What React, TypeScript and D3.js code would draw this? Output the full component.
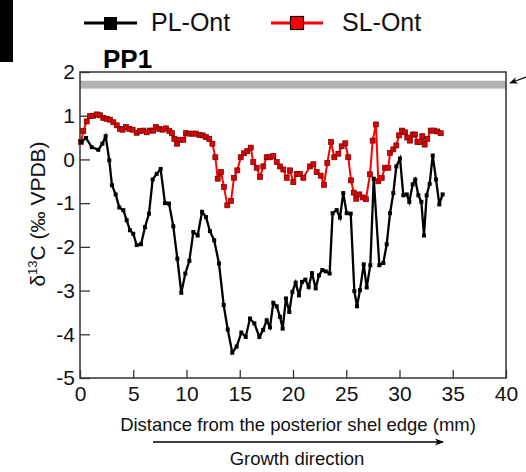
import { useRef, useEffect } from "react";
import * as d3 from "d3";

// PL-Ont (black) profile: distance (mm) and d13C
const plX = [0.1, 0.56, 1.1, 1.72, 2.1, 2.41, 2.75, 3.0, 3.35, 3.69, 4.07, 4.38, 4.69, 5.0, 5.32, 5.73, 6.1, 6.48, 6.82, 7.2, 7.57, 7.98, 8.36, 8.76, 9.14, 9.51, 9.89, 10.27, 10.64, 11.05, 11.46, 11.83, 12.2, 12.6, 13.05, 13.49, 13.87, 14.3, 14.71, 15.15, 15.56, 15.96, 16.37, 16.84, 17.2, 17.53, 17.84, 18.15, 18.47, 18.78, 19.03, 19.34, 19.65, 19.94, 20.25, 20.56, 20.85, 21.16, 21.47, 21.78, 22.13, 22.44, 22.75, 23.07, 23.44, 23.72, 24.1, 24.41, 24.72, 25.04, 25.42, 25.76, 26.01, 26.29, 26.64, 26.92, 27.26, 27.58, 28.11, 28.48, 28.8, 29.11, 29.42, 29.7, 30.05, 30.36, 30.68, 30.92, 31.24, 31.48, 31.77, 32.05, 32.3, 32.55, 32.83, 33.12, 33.43, 33.74, 34.05];
const plY = [0.4, 0.49, 0.28, 0.22, 0.36, 0.53, -0.02, -0.59, -0.8, -1.1, -1.16, -1.39, -1.62, -1.7, -1.96, -1.94, -1.55, -1.24, -0.46, -0.33, -0.22, -1.0, -1.01, -1.53, -2.27, -3.05, -2.61, -2.32, -1.66, -1.74, -1.2, -1.32, -1.64, -1.85, -2.38, -3.33, -3.89, -4.42, -4.28, -3.96, -4.06, -3.64, -3.75, -4.06, -3.9, -3.68, -3.84, -3.28, -3.36, -3.6, -3.87, -3.18, -3.49, -3.03, -2.82, -3.11, -2.8, -2.75, -2.92, -2.6, -2.95, -2.65, -2.53, -2.56, -2.61, -1.23, -1.16, -1.33, -0.77, -1.23, -1.24, -3.01, -3.36, -2.99, -2.4, -2.93, -2.42, -0.44, -2.42, -2.37, -1.94, -1.23, -0.77, -0.16, 0.02, -0.82, -0.8, -0.97, -0.57, -0.46, -0.82, -0.97, -1.74, -0.82, -0.56, 0.09, -0.46, -1.03, -0.8];

// SL-Ont (red) profile
const slX = [0.1, 0.31, 0.63, 0.94, 1.25, 1.57, 1.88, 2.19, 2.51, 2.82, 3.13, 3.45, 3.76, 4.0, 4.32, 4.63, 4.94, 5.32, 5.63, 5.95, 6.26, 6.57, 6.88, 7.14, 7.45, 7.76, 8.08, 8.39, 8.64, 8.86, 9.11, 9.39, 9.7, 9.95, 10.26, 10.58, 10.89, 11.2, 11.52, 11.83, 12.14, 12.43, 12.71, 12.93, 13.24, 13.52, 13.83, 14.18, 14.46, 14.77, 15.09, 15.4, 15.71, 16.03, 16.27, 16.59, 16.9, 17.21, 17.53, 17.84, 18.15, 18.47, 18.78, 19.09, 19.41, 19.72, 20.03, 20.35, 20.66, 20.97, 21.6, 21.91, 22.22, 22.6, 22.91, 23.22, 23.57, 23.88, 24.26, 24.57, 24.91, 25.19, 25.45, 25.7, 25.94, 26.23, 26.54, 26.85, 27.23, 27.48, 27.79, 28.01, 28.33, 28.64, 28.95, 29.11, 29.42, 29.7, 29.95, 30.23, 30.52, 30.73, 30.99, 31.24, 31.46, 31.68, 31.92, 32.14, 32.36, 32.61, 32.93, 33.24, 33.55, 33.87];
const slY = [0.4, 0.65, 0.87, 0.99, 1.0, 1.03, 1.01, 0.95, 0.93, 0.91, 0.85, 0.78, 0.7, 0.68, 0.74, 0.7, 0.68, 0.61, 0.65, 0.66, 0.62, 0.66, 0.66, 0.74, 0.7, 0.68, 0.71, 0.65, 0.6, 0.47, 0.36, 0.45, 0.45, 0.6, 0.59, 0.59, 0.59, 0.56, 0.55, 0.51, 0.47, 0.36, 0.05, -0.44, -0.29, -0.63, -1.05, -0.95, -0.42, -0.25, 0.05, 0.14, 0.19, 0.27, -0.06, -0.19, -0.4, -0.16, 0.05, 0.05, 0.08, -0.06, -0.16, -0.23, -0.42, -0.25, -0.52, -0.33, -0.33, -0.42, -0.16, -0.11, -0.29, -0.37, -0.58, -0.08, 0.4, 0.05, 0.13, 0.3, 0.37, 0.05, -0.48, -0.76, -0.9, -0.8, -0.87, -0.91, -0.34, 0.43, 0.8, -0.5, -0.42, -0.19, -0.19, 0.15, 0.23, 0.32, 0.55, 0.66, 0.62, 0.5, 0.43, 0.57, 0.57, 0.4, 0.4, 0.53, 0.34, 0.47, 0.66, 0.66, 0.64, 0.6];

const xTicks = [0, 5, 10, 15, 20, 25, 30, 35, 40];
const yTicks = [2, 1, 0, -1, -2, -3, -4, -5];
const band = [1.62, 1.8];

const FONT = "'Liberation Sans', Arial, sans-serif";

export default function App() {
  const svgRef = useRef<SVGSVGElement>(null);

  useEffect(() => {
    if (!svgRef.current) return;
    const svg = d3.select(svgRef.current);
    svg.selectAll("*").remove();

    const width = 526;
    const height = 472;
    const margin = { top: 72, right: 20, bottom: 94, left: 80 };
    const innerWidth = width - margin.left - margin.right;
    const innerHeight = height - margin.top - margin.bottom;

    svg.attr("width", width).attr("height", height).attr("font-family", FONT);

    // crop artefact at top-left
    svg.append("rect").attr("x", 0).attr("y", 0).attr("width", 13).attr("height", 62).attr("fill", "#000");

    const g = svg.append("g").attr("transform", `translate(${margin.left}, ${margin.top})`);

    const x = d3.scaleLinear().domain([0, 40]).range([0, innerWidth]);
    const y = d3.scaleLinear().domain([-5, 2]).range([innerHeight, 0]);

    // grey reference band
    g.append("rect")
      .attr("x", 0)
      .attr("y", y(band[1]))
      .attr("width", innerWidth)
      .attr("height", y(band[0]) - y(band[1]))
      .attr("fill", "#b3b3b3");

    // frame
    g.append("rect")
      .attr("width", innerWidth)
      .attr("height", innerHeight)
      .attr("fill", "none")
      .attr("stroke", "#333")
      .attr("stroke-width", 1.5);

    // X axis
    g.append("g")
      .attr("transform", `translate(0, ${innerHeight})`)
      .call(d3.axisBottom(x).tickValues(xTicks).tickSize(-8).tickPadding(8).tickFormat((d) => String(d)))
      .call((a) => a.select(".domain").remove())
      .call((a) => a.selectAll(".tick line").attr("stroke", "#333").attr("stroke-width", 1.3))
      .call((a) => a.selectAll(".tick text").attr("fill", "#111").attr("font-size", "21px").attr("font-family", FONT));

    // Y axis
    g.append("g")
      .call(d3.axisLeft(y).tickValues(yTicks).tickSize(-10).tickPadding(5).tickFormat((d) => String(d)))
      .call((a) => a.select(".domain").remove())
      .call((a) => a.selectAll(".tick line").attr("stroke", "#333").attr("stroke-width", 1.3))
      .call((a) => a.selectAll(".tick text").attr("fill", "#111").attr("font-size", "21px").attr("font-family", FONT));

    const line = d3
      .line<[number, number]>()
      .x((d) => x(d[0]))
      .y((d) => y(d[1]));

    const slData: [number, number][] = slX.map((v, i) => [v, slY[i]]);
    const plData: [number, number][] = plX.map((v, i) => [v, plY[i]]);

    // SL-Ont
    g.append("path").datum(slData).attr("d", line).attr("fill", "none").attr("stroke", "#ff0000").attr("stroke-width", 2);
    g.selectAll(".sl")
      .data(slData)
      .enter()
      .append("rect")
      .attr("x", (d) => x(d[0]) - 2.5)
      .attr("y", (d) => y(d[1]) - 2.5)
      .attr("width", 5)
      .attr("height", 5)
      .attr("fill", "#e00000")
      .attr("stroke", "#600")
      .attr("stroke-width", 0.7);

    // PL-Ont
    g.append("path").datum(plData).attr("d", line).attr("fill", "none").attr("stroke", "#000").attr("stroke-width", 2.3);
    g.selectAll(".pl")
      .data(plData)
      .enter()
      .append("rect")
      .attr("x", (d) => x(d[0]) - 2)
      .attr("y", (d) => y(d[1]) - 2)
      .attr("width", 4)
      .attr("height", 4)
      .attr("fill", "#000");

    // arrow at right pointing to band
    const defs = svg.append("defs");
    defs.append("marker")
      .attr("id", "ah")
      .attr("viewBox", "0 0 10 10")
      .attr("refX", 9)
      .attr("refY", 5)
      .attr("markerWidth", 7)
      .attr("markerHeight", 7)
      .attr("orient", "auto")
      .append("path")
      .attr("d", "M0,1 L10,5 L0,9 L3,5 Z")
      .attr("fill", "#000");
    svg.append("line")
      .attr("x1", 526).attr("y1", 77).attr("x2", 510).attr("y2", 83)
      .attr("stroke", "#000").attr("stroke-width", 1.2).attr("marker-end", "url(#ah)");

    // legend
    const legend = svg.append("g");
    legend.append("line").attr("x1", 84).attr("x2", 137).attr("y1", 23).attr("y2", 23).attr("stroke", "#000").attr("stroke-width", 3);
    legend.append("rect").attr("x", 104).attr("y", 17).attr("width", 13).attr("height", 13).attr("fill", "#000");
    legend.append("text").attr("x", 151).attr("y", 31).attr("font-size", "25px").attr("fill", "#111").text("PL-Ont");
    legend.append("line").attr("x1", 271).attr("x2", 323).attr("y1", 23).attr("y2", 23).attr("stroke", "#ff0000").attr("stroke-width", 3);
    legend.append("rect").attr("x", 290.5).attr("y", 16.5).attr("width", 13).attr("height", 13).attr("fill", "#ff0000").attr("stroke", "#000").attr("stroke-width", 1.2);
    legend.append("text").attr("x", 342).attr("y", 31).attr("font-size", "25px").attr("fill", "#111").text("SL-Ont");

    // panel title
    svg.append("text").attr("x", 103).attr("y", 68).attr("font-size", "26px").attr("font-weight", "bold").attr("fill", "#000").text("PP1");

    // y label
    const yl = svg.append("text")
      .attr("transform", "translate(45, 214) rotate(-90)")
      .attr("text-anchor", "middle")
      .attr("font-size", "21px")
      .attr("fill", "#111");
    yl.append("tspan").text("δ");
    yl.append("tspan").attr("font-size", "13px").attr("dy", -8).text("13");
    yl.append("tspan").attr("dy", 8).text("C (‰ VPDB)");

    // x label
    svg.append("text").attr("x", 298).attr("y", 431).attr("text-anchor", "middle").attr("font-size", "18.5px").attr("fill", "#111")
      .text("Distance from the posterior shel edge (mm)");

    defs.append("marker")
      .attr("id", "ah2")
      .attr("viewBox", "0 0 10 10")
      .attr("refX", 9)
      .attr("refY", 5)
      .attr("markerWidth", 7)
      .attr("markerHeight", 7)
      .attr("orient", "auto")
      .append("path")
      .attr("d", "M0,1 L10,5 L0,9 L3,5 Z")
      .attr("fill", "#000");
    svg.append("line")
      .attr("x1", 153).attr("y1", 442).attr("x2", 443).attr("y2", 442)
      .attr("stroke", "#000").attr("stroke-width", 1.3).attr("marker-end", "url(#ah2)");

    svg.append("text").attr("x", 297).attr("y", 465).attr("text-anchor", "middle").attr("font-size", "18.5px").attr("fill", "#111")
      .text("Growth direction");
  }, []);

  return <svg ref={svgRef} style={{ position: "absolute", left: 0, top: 0, background: "#fff" }} />;
}
